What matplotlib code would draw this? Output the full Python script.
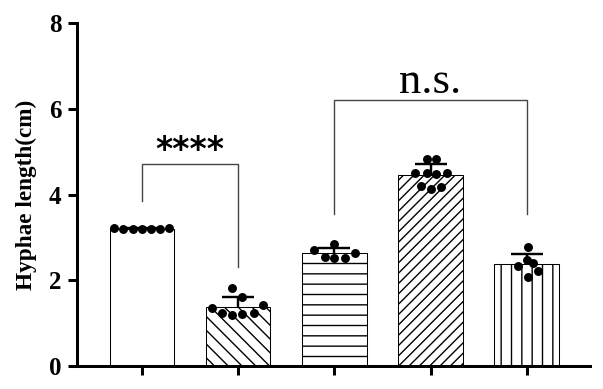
import numpy as np
import matplotlib
matplotlib.use("Agg")
import matplotlib.pyplot as plt

# measured values per group (cm)
group1 = [3.23, 3.20, 3.19, 3.19, 3.19, 3.20, 3.21]
group2 = [1.82, 1.61, 1.35, 1.24, 1.19, 1.21, 1.24, 1.42]
group3 = [2.70, 2.84, 2.54, 2.52, 2.52, 2.63]
group4 = [4.83, 4.83, 4.50, 4.50, 4.48, 4.50, 4.20, 4.13, 4.17]
group5 = [2.78, 2.33, 2.47, 2.40, 2.21, 2.07]
groups = [group1, group2, group3, group4, group5]

# horizontal scatter of the dots inside each bar
spread1 = [-0.29, -0.20, -0.09, 0.0, 0.09, 0.19, 0.28]
spread2 = [-0.06, 0.04, -0.27, -0.17, -0.06, 0.04, 0.16, 0.26]
spread3 = [-0.21, 0.0, -0.10, 0.0, 0.11, 0.22]
spread4 = [-0.04, 0.06, -0.16, -0.04, 0.06, 0.17, -0.10, 0.01, 0.11]
spread5 = [0.01, -0.09, 0.0, 0.07, 0.12, 0.01]
spreads = [spread1, spread2, spread3, spread4, spread5]

hatches = ["", "\\\\\\", "--", "////", "||"]

# significance brackets: (left bar, right bar, top, left leg end, right leg end, text)
brackets = [
    (0, 1, 4.71, 3.85, 2.31, "****"),
    (2, 4, 6.20, 3.54, 3.54, "n.s."),
]

plt.rcParams['font.family'] = ['Liberation Serif', 'DejaVu Serif']
plt.rcParams['hatch.linewidth'] = 0.8

dpi = 124
fig = plt.figure(figsize=(603 / dpi, 389 / dpi), dpi=dpi)
ax = fig.add_axes([0.1285, 0.0591, 0.978 - 0.1285, 0.9409 - 0.0591])

x = np.arange(len(groups))
means = [np.mean(g) for g in groups]
sds = [np.std(g, ddof=1) for g in groups]

ax.errorbar(x, means, yerr=sds, fmt="none", ecolor="black", elinewidth=1.4,
            capsize=9.3, capthick=1.4, zorder=1)
for i in range(len(groups)):
    ax.bar(x[i], means[i], width=0.67, color="white", edgecolor="black",
           linewidth=0.6, hatch=hatches[i], zorder=2)
    ax.scatter(x[i] + np.array(spreads[i]), groups[i], s=27, color="black",
               zorder=3, linewidths=0)

for l, r, top, yl, yr, txt in brackets:
    ax.plot([l, l, r, r], [yl, top, top, yr], color="#444444", lw=0.8,
            zorder=1, solid_joinstyle="miter")
    if txt == "****":
        ax.text((l + r) / 2, top + 0.32, txt, ha="center", va="center",
                fontsize=19, fontweight="bold", family="DejaVu Sans")
    else:
        ax.text((l + r) / 2, top + 0.16, txt, ha="center", va="baseline",
                fontsize=26)

ax.set_xlim(-0.67, 4.655)
ax.set_ylim(0, 8)
ax.set_yticks([0, 2, 4, 6, 8])
ax.set_xticks(x)
ax.set_xticklabels([])
ax.spines['top'].set_visible(False)
ax.spines['right'].set_visible(False)
for s in ['left', 'bottom']:
    ax.spines[s].set_linewidth(1.75)
ax.tick_params(axis='both', width=1.75, length=5.2, direction='out')
ax.tick_params(axis='y', pad=4, labelsize=14.5)
for lab in ax.get_yticklabels():
    lab.set_fontweight('bold')
ax.set_ylabel("Hyphae length(cm)", fontsize=13.5, fontweight='bold', labelpad=7)

fig.savefig("out.png", dpi=dpi)
